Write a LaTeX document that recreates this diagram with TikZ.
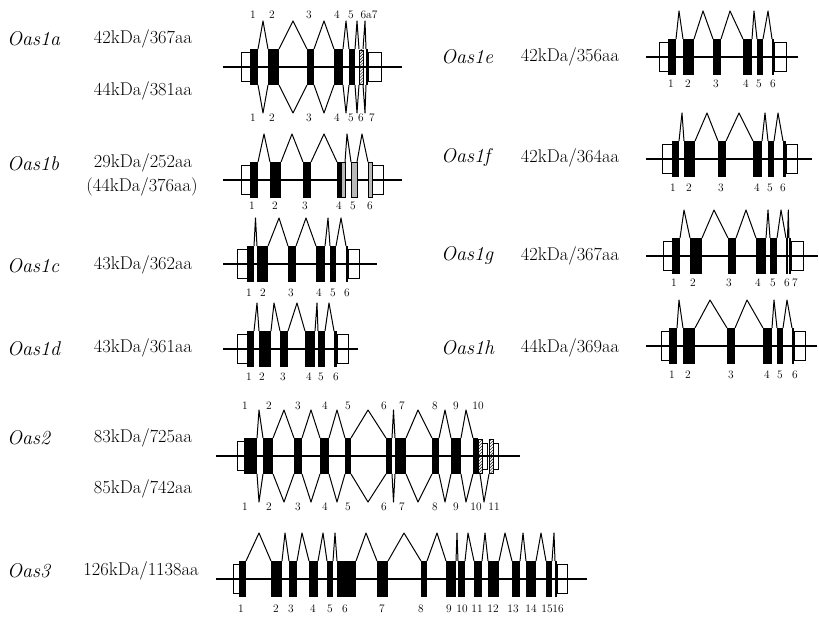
\documentclass[tikz,border=0pt]{standalone}
\usetikzlibrary{patterns}
\tikzset{
  exon/.style={fill=black},
  utr/.style={draw, fill=white, line width=1bp},
  alt/.style={draw, fill=gray!55, line width=0.8bp},
  hatch/.style={draw, pattern=north east lines, line width=0.8bp},
  intron/.style={line width=1bp, line join=round},
  axis/.style={line width=1.1bp},
  gene/.style={font=\fontsize{20}{24}\selectfont\itshape, inner sep=0pt, anchor=west},
  prot/.style={font=\fontsize{18.5}{22}\selectfont, inner sep=0pt},
  num/.style={font=\fontsize{11.5}{13}\selectfont, inner sep=0pt}
}
\begin{document}
\begin{tikzpicture}[x=1bp, y=-1bp]
\useasboundingbox (0,0) rectangle (819,617);

\node[gene] (g1a) at (7,39) {Oas1a};
\node[prot] (p1a) at (143,39) {42kDa/367aa};
\node[prot] (q1a) at (143,91) {44kDa/381aa};
\node[gene] (g1b) at (7,164) {Oas1b};
\node[prot] (p1b) at (143,163) {29kDa/252aa};
\node[prot] (q1b) at (142,187) {(44kDa/376aa)};
\node[gene] (g1c) at (7,266) {Oas1c};
\node[prot] (p1c) at (143,265) {43kDa/362aa};
\node[gene] (g1d) at (7,349) {Oas1d};
\node[prot] (p1d) at (143,348) {43kDa/361aa};
\node[gene] (g2) at (7,438) {Oas2};
\node[prot] (p2) at (143,438) {83kDa/725aa};
\node[prot] (q2) at (143,489) {85kDa/742aa};
\node[gene] (g3) at (7,571) {Oas3};
\node[prot] (p3) at (141,571) {126kDa/1138aa};
\node[gene] (g1e) at (441,57) {Oas1e};
\node[prot] (p1e) at (570,57) {42kDa/356aa};
\node[gene] (g1f) at (441,158) {Oas1f};
\node[prot] (p1f) at (570,158) {42kDa/364aa};
\node[gene] (g1g) at (441,256) {Oas1g};
\node[prot] (p1g) at (570,256) {42kDa/367aa};
\node[gene] (g1h) at (441,348) {Oas1h};
\node[prot] (p1h) at (570,348) {44kDa/369aa};

\begin{scope}[shift={(0,67)}]
  \draw[utr] (241,-14.5) rectangle (250,14.5);
  \draw[utr] (368,-14.5) rectangle (381,14.5);
  \draw[axis] (223,0) -- (402,0);
  \foreach \a/\b in {250/258,268/279,307/314,334/343,349/355,366/368}
    \fill[exon] (\a,-18) rectangle (\b,18);
  \draw[hatch] (359,-17) rectangle (363,17);
  \foreach \l/\p/\r in {258/263/268,279/293/307,314/324/334,343/346/349,355/357/359,363/365/366}{
    \draw[intron] (\l,-18) -- (\p,-46) -- (\r,-18);
    \draw[intron] (\l,18) -- (\p,46) -- (\r,18);
  }
  \foreach \x/\t in {253/1,272/2,309/3,337/4,351/5,369/6a7}
    \node[num] (a\t) at (\x,-52) {\t};
  \foreach \x/\t in {253/1,272/2,309/3,337/4,351/5,361/6,372/7}
    \node[num] (b\t) at (\x,51) {\t};
\end{scope}

\begin{scope}[shift={(0,180)}]
  \draw[utr] (241,-14.5) rectangle (250,14.5);
  \draw[utr] (372,-14.5) rectangle (383,14.5);
  \draw[axis] (223,0) -- (402,0);
  \foreach \a/\b in {250/258,270/281,303/311,337/341}
    \fill[exon] (\a,-18) rectangle (\b,18);
  \foreach \a/\b in {341/345,351/357,368/372}
    \draw[alt] (\a,-17.5) rectangle (\b,17.5);
  \foreach \l/\p/\r in {258/264/270,281/292/303,311/324/337,345/347/351,357/362/368}
    \draw[intron] (\l,-18) -- (\p,-46) -- (\r,-18);
  \foreach \x/\t in {252/1,275/2,305/3,339/4,353/5,370/6}
    \node[num] (c\t) at (\x,26) {\t};
\end{scope}

\begin{scope}[shift={(0,264)}]
  \draw[utr] (237,-14.5) rectangle (247,14.5);
  \draw[utr] (348,-14.5) rectangle (359,14.5);
  \draw[axis] (223,0) -- (377,0);
  \foreach \a/\b in {247/254,257/268,288/296,316/325,330/336,346/348}
    \fill[exon] (\a,-18) rectangle (\b,18);
  \foreach \l/\p/\r in {254/255.5/257,268/279/288,296/306/316,325/328/330,336/341/346}
    \draw[intron] (\l,-18) -- (\p,-46) -- (\r,-18);
  \foreach \x/\t in {249/1,263/2,291/3,319/4,333/5,347/6}
    \node[num] (d\t) at (\x,29) {\t};
\end{scope}

\begin{scope}[shift={(0,349)}]
  \draw[utr] (237,-14.5) rectangle (247,14.5);
  \draw[utr] (337,-14.5) rectangle (348,14.5);
  \draw[axis] (223,0) -- (358,0);
  \foreach \a/\b in {247/254,259/271,280/288,305/315,318/325,334/337}
    \fill[exon] (\a,-18) rectangle (\b,18);
  \foreach \l/\p/\r in {254/257/259,271/274/280,288/297/305,315/317/318,325/329/334}
    \draw[intron] (\l,-18) -- (\p,-46) -- (\r,-18);
  \foreach \x/\t in {249/1,262/2,283/3,309/4,321/5,336/6}
    \node[num] (e\t) at (\x,28) {\t};
\end{scope}

\begin{scope}[shift={(0,57)}]
  \draw[utr] (659,-14.5) rectangle (668,14.5);
  \draw[utr] (774,-14.5) rectangle (786,14.5);
  \draw[axis] (646,0) -- (798,0);
  \foreach \a/\b in {668/676,683/694,713/721,743/752,757/763,772/774}
    \fill[exon] (\a,-18) rectangle (\b,18);
  \foreach \l/\p/\r in {676/679/683,694/703/713,721/730/743,752/754/757,763/768/772}
    \draw[intron] (\l,-18) -- (\p,-46) -- (\r,-18);
  \foreach \x/\t in {671/1,688/2,716/3,746/4,759/5,773/6}
    \node[num] (f\t) at (\x,27) {\t};
\end{scope}

\begin{scope}[shift={(0,159)}]
  \draw[utr] (662,-14.5) rectangle (672,14.5);
  \draw[utr] (786,-14.5) rectangle (797,14.5);
  \draw[axis] (646,0) -- (812,0);
  \foreach \a/\b in {672/679,684/695,718/726,753/762,768/774,783/786}
    \fill[exon] (\a,-18) rectangle (\b,18);
  \foreach \l/\p/\r in {679/682/684,695/707/718,726/739/753,762/765/768,774/778/783}
    \draw[intron] (\l,-18) -- (\p,-46) -- (\r,-18);
  \foreach \x/\t in {673/1,689/2,721/3,757/4,770/5,783/6}
    \node[num] (h\t) at (\x,29) {\t};
\end{scope}

\begin{scope}[shift={(0,256)}]
  \draw[utr] (663,-14.5) rectangle (672,14.5);
  \draw[utr] (791,-14.5) rectangle (803,14.5);
  \draw[axis] (646,0) -- (818,0);
  \foreach \a/\b in {672/680,690/702,728/736,756/766,770/777,786/787.5,789/791}
    \fill[exon] (\a,-18) rectangle (\b,18);
  \foreach \l/\p/\r in {680/684/690,702/714/728,736/746/756,766/768/770,777/781/786,787.5/788.3/789}
    \draw[intron] (\l,-18) -- (\p,-46) -- (\r,-18);
  \foreach \x/\t in {674/1,693/2,729/3,758/4,773/5,787/6,795/7}
    \node[num] (i\t) at (\x,27) {\t};
\end{scope}

\begin{scope}[shift={(0,346)}]
  \draw[utr] (661,-14.5) rectangle (669,14.5);
  \draw[utr] (794,-14.5) rectangle (805,14.5);
  \draw[axis] (646,0) -- (817,0);
  \foreach \a/\b in {669/677,683/695,727/735,763/772,777/783,792/794}
    \fill[exon] (\a,-18) rectangle (\b,18);
  \foreach \l/\p/\r in {677/679/683,695/710/727,735/747/763,772/774/777,783/787/792}
    \draw[intron] (\l,-18) -- (\p,-46) -- (\r,-18);
  \foreach \x/\t in {672/1,688/2,731/3,767/4,780/5,795/6}
    \node[num] (j\t) at (\x,29) {\t};
\end{scope}

\begin{scope}[shift={(0,456)}]
  \draw[utr] (237,-14.5) rectangle (244,14.5);
  \draw[utr] (482,-13) rectangle (487,13);
  \draw[utr] (493,-13) rectangle (498,13);
  \draw[axis] (216,0) -- (520,0);
  \foreach \a/\b in {244/257,263/273,294/302,320/329,345/351,386/392,395/406,432/439,451/461,473/478}
    \fill[exon] (\a,-18) rectangle (\b,18);
  \draw[hatch] (478,-17) rectangle (482,17);
  \draw[hatch] (489,-17) rectangle (493,17);
  \foreach \l/\p/\r in {257/259/263,273/284/294,302/311/320,329/337/345,351/368/386,392/393.5/395,406/418/432,439/445/451,461/466/473}{
    \draw[intron] (\l,-18) -- (\p,-46) -- (\r,-18);
    \draw[intron] (\l,18) -- (\p,46) -- (\r,18);
  }
  \draw[intron] (480,18) -- (484,46) -- (489,18);
  \foreach \x/\t in {245/1,269/2,298/3,325/4,348/5,384/6,402/7,435/8,456/9,478/10}
    \node[num] (k\t) at (\x,-50) {\t};
  \foreach \x/\t in {245/1,269/2,298/3,325/4,348/5,384/6,402/7,435/8,456/9,476/10,494/11}
    \node[num] (l\t) at (\x,51) {\t};
\end{scope}

\begin{scope}[shift={(0,579)}]
  \draw[utr] (233,-14.5) rectangle (239,14.5);
  \draw[utr] (557,-14.5) rectangle (567,14.5);
  \draw[axis] (216,0) -- (587,0);
  \foreach \a/\b in {239/246,271/282,289/297,309/318,327/333,337/356,377/388,421/427,446/456,458/465,474/482,488/499,512/520,526/536,546/552,555/557}
    \fill[exon] (\a,-18) rectangle (\b,18);
  \foreach \l/\p/\r in {246/259/271,282/285/289,297/302/309,318/323/327,333/335/337,356/366/377,388/404/421,427/437/446,456/457/458,465/468/474,482/485/488,499/505/512,520/523/526,536/541/546,552/554/555}
    \draw[intron] (\l,-18) -- (\p,-46) -- (\r,-18);
  \foreach \x/\t in {241/1,276/2,291/3,313/4,330/5,345/6,382/7,421/8,449/9,462/10,477/11,493/12,513/13,531/14,547/15,558/16}
    \node[num] (m\t) at (\x,30) {\t};
\end{scope}
\end{tikzpicture}
\end{document}
